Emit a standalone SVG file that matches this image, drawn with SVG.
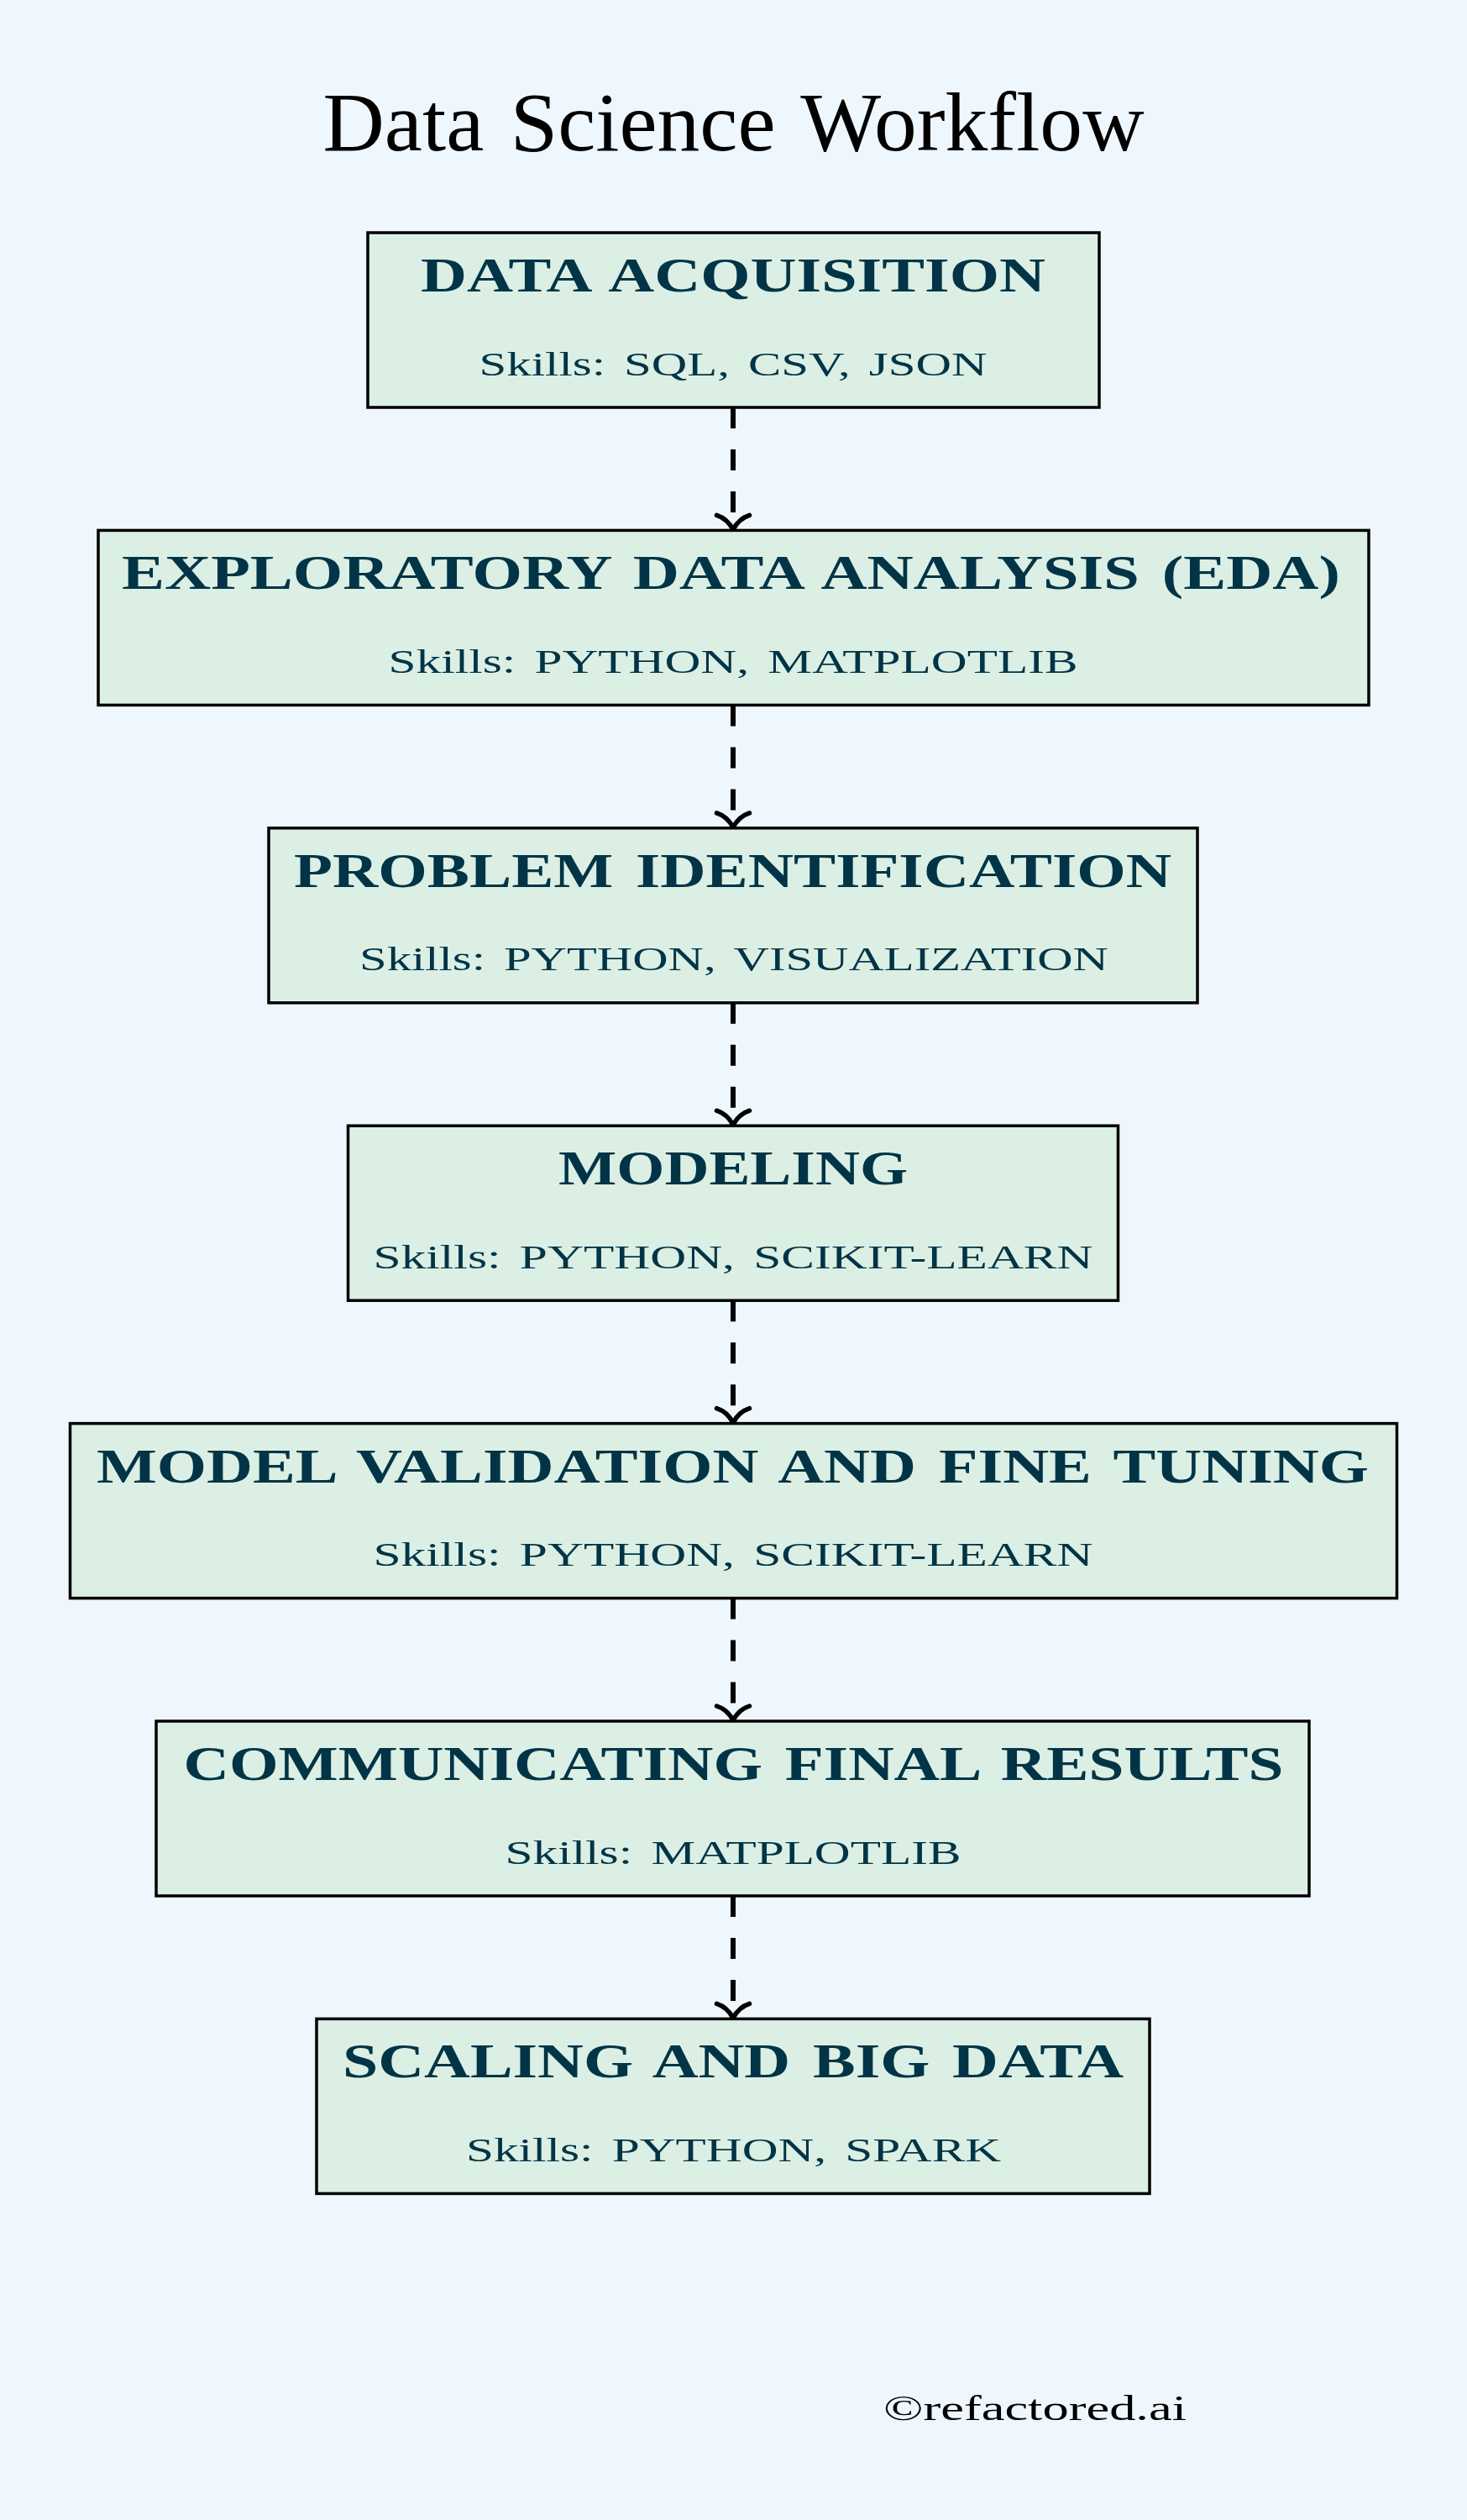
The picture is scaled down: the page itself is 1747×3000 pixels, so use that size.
<svg xmlns="http://www.w3.org/2000/svg" width="1747" height="3000" viewBox="0 0 1747 3000">
  <style>
    .bg { fill: #eff7fe; }
    .box { fill: #dcefe4; stroke: #000000; stroke-width: 3.5; }
    .head { font-family: "Liberation Serif", "Times New Roman", serif; font-weight: bold; font-size: 58px; fill: #003446; text-anchor: middle; word-spacing: 6px; }
    .sub { font-family: "Liberation Serif", "Times New Roman", serif; font-size: 40px; fill: #003446; text-anchor: middle; word-spacing: 5px; }
    .title { font-family: "Liberation Serif", "Times New Roman", serif; font-size: 100px; fill: #000000; text-anchor: middle; word-spacing: 6px; }
    .foot { font-family: "Liberation Serif", "Times New Roman", serif; font-size: 42px; fill: #000000; }
    .conn { fill: none; stroke: #000000; stroke-width: 6; stroke-dasharray: 25 25; marker-end: url(#arrow); }
    .ahead { fill: none; stroke: #000000; stroke-width: 5.5; stroke-linecap: round; stroke-linejoin: round; }
  </style>
  <defs>
    <marker id="arrow" markerUnits="userSpaceOnUse" viewBox="-10 -30 40 60" refX="0" refY="0" markerWidth="40" markerHeight="60" orient="auto" overflow="visible">
      <path class="ahead" d="M 1,-19.5 Q 5,-7 18,0 Q 5,7 1,19.5"/>
    </marker>
  </defs>
  <rect class="bg" x="0" y="0" width="1747" height="3000"/>
  <text id="title" class="title" x="873.5" y="179" textLength="978" lengthAdjust="spacingAndGlyphs">Data Science Workflow</text>

  <g id="connectors">
    <line class="conn" x1="873" y1="485" x2="873" y2="612.4"/>
    <line class="conn" x1="873" y1="839.4" x2="873" y2="966.8"/>
    <line class="conn" x1="873" y1="1193.8" x2="873" y2="1321.2"/>
    <line class="conn" x1="873" y1="1548.2" x2="873" y2="1675.6"/>
    <line class="conn" x1="873" y1="1902.6" x2="873" y2="2030"/>
    <line class="conn" x1="873" y1="2257" x2="873" y2="2384.4"/>
  </g>

  <g id="node-data-acquisition">
    <rect class="box" x="438" y="277" width="871" height="208"/>
    <text class="head" x="873" y="347" textLength="744" lengthAdjust="spacingAndGlyphs">DATA ACQUISITION</text>
    <text class="sub" x="873" y="446.5" textLength="605" lengthAdjust="spacingAndGlyphs">Skills: SQL, CSV, JSON</text>
  </g>
  <g id="node-eda">
    <rect class="box" x="117" y="631.4" width="1513" height="208"/>
    <text class="head" x="870.5" y="701.4" textLength="1451" lengthAdjust="spacingAndGlyphs">EXPLORATORY DATA ANALYSIS (EDA)</text>
    <text class="sub" x="873" y="800.9" textLength="821" lengthAdjust="spacingAndGlyphs">Skills: PYTHON, MATPLOTLIB</text>
  </g>
  <g id="node-problem-identification">
    <rect class="box" x="320" y="985.8" width="1106" height="208"/>
    <text class="head" x="872.5" y="1055.8" textLength="1045" lengthAdjust="spacingAndGlyphs">PROBLEM IDENTIFICATION</text>
    <text class="sub" x="874" y="1155.3" textLength="892" lengthAdjust="spacingAndGlyphs">Skills: PYTHON, VISUALIZATION</text>
  </g>
  <g id="node-modeling">
    <rect class="box" x="414.5" y="1340.2" width="917" height="208"/>
    <text class="head" x="873" y="1410.2" textLength="416" lengthAdjust="spacingAndGlyphs">MODELING</text>
    <text class="sub" x="873" y="1509.7" textLength="857" lengthAdjust="spacingAndGlyphs">Skills: PYTHON, SCIKIT-LEARN</text>
  </g>
  <g id="node-model-validation">
    <rect class="box" x="83.5" y="1694.6" width="1580" height="208"/>
    <text class="head" x="872.5" y="1764.6" textLength="1515" lengthAdjust="spacingAndGlyphs">MODEL VALIDATION AND FINE TUNING</text>
    <text class="sub" x="873" y="1864.1" textLength="857" lengthAdjust="spacingAndGlyphs">Skills: PYTHON, SCIKIT-LEARN</text>
  </g>
  <g id="node-communicating">
    <rect class="box" x="186" y="2049" width="1373" height="208"/>
    <text class="head" x="873.5" y="2119" textLength="1310" lengthAdjust="spacingAndGlyphs">COMMUNICATING FINAL RESULTS</text>
    <text class="sub" x="873" y="2218.5" textLength="543" lengthAdjust="spacingAndGlyphs">Skills: MATPLOTLIB</text>
  </g>
  <g id="node-scaling">
    <rect class="box" x="377" y="2403.4" width="992" height="208"/>
    <text class="head" x="873" y="2473.4" textLength="930" lengthAdjust="spacingAndGlyphs">SCALING AND BIG DATA</text>
    <text class="sub" x="873.5" y="2572.9" textLength="637" lengthAdjust="spacingAndGlyphs">Skills: PYTHON, SPARK</text>
  </g>

  <text id="footer" class="foot" x="1052" y="2881" textLength="361" lengthAdjust="spacingAndGlyphs">©refactored.ai</text>
</svg>
